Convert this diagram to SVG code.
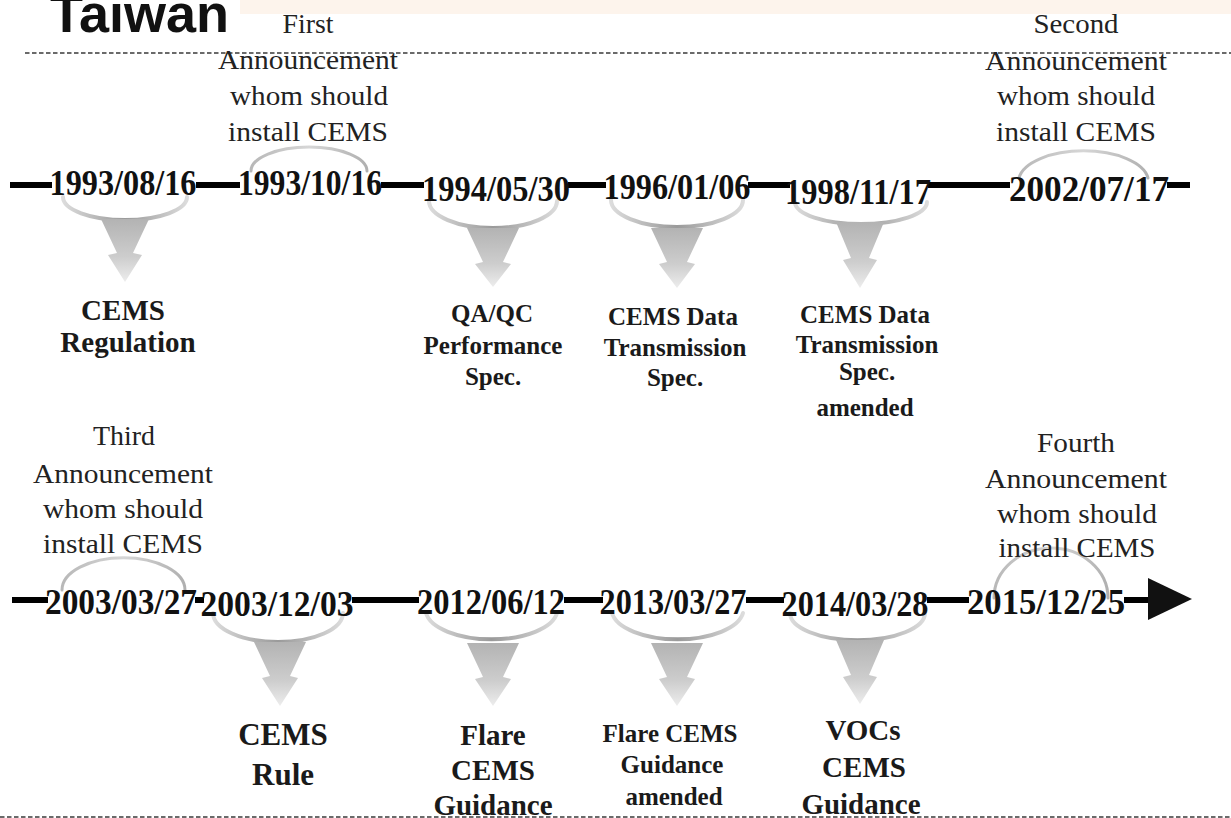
<svg xmlns="http://www.w3.org/2000/svg" width="1231" height="818" viewBox="0 0 1231 818">
<defs>
<style>
.title{font-family:"Liberation Sans",Arial,sans-serif;font-weight:bold;font-size:54px;fill:#111}
.date{font-family:"Liberation Serif","Times New Roman",serif;font-weight:bold;font-size:35px;fill:#111;text-anchor:middle}
.ann{font-family:"Liberation Serif","Times New Roman",serif;font-size:27px;fill:#222;text-anchor:middle}
.lbl{font-family:"Liberation Serif","Times New Roman",serif;font-weight:bold;font-size:25px;fill:#1a1a1a;text-anchor:middle}
.lbl29{font-family:"Liberation Serif","Times New Roman",serif;font-weight:bold;font-size:29px;fill:#1a1a1a;text-anchor:middle}
.lbl31{font-family:"Liberation Serif","Times New Roman",serif;font-weight:bold;font-size:31px;fill:#1a1a1a;text-anchor:middle}
.dash{stroke:#3a3a3a;stroke-width:1.6;stroke-dasharray:4.5 2.5;fill:none}
.tl{stroke:#000;stroke-width:6;fill:none}
.bowl{fill:none;stroke:url(#bowlG);stroke-width:4;stroke-linecap:round}
.cap{fill:none;stroke:url(#capG);stroke-width:3;stroke-linecap:round}
.tri{fill:url(#triG)}
</style>
<linearGradient id="bowlG" x1="0" y1="0" x2="1" y2="0">
<stop offset="0" stop-color="#dcdcdc"/>
<stop offset="0.5" stop-color="#9a9a9a"/>
<stop offset="1" stop-color="#dcdcdc"/>
</linearGradient>
<linearGradient id="capG" x1="0" y1="0" x2="1" y2="0">
<stop offset="0" stop-color="#b8b8b8"/>
<stop offset="0.5" stop-color="#d6d6d6"/>
<stop offset="1" stop-color="#b0b0b0"/>
</linearGradient>
<linearGradient id="triG" x1="0" y1="0" x2="0" y2="1">
<stop offset="0" stop-color="#b3b3b3"/>
<stop offset="0.6" stop-color="#cdcdcd"/>
<stop offset="1" stop-color="#ededed"/>
</linearGradient>
</defs>
<rect width="1231" height="818" fill="#ffffff"/>
<rect x="240" y="0" width="991" height="14" fill="#fdf4ec"/>

<text class="title" x="50" y="32">Taiwan</text>
<line class="dash" x1="25" y1="53" x2="1231" y2="53"/>
<line class="dash" x1="0" y1="817" x2="1231" y2="817"/>

<g id="connectors">
<line class="tl" x1="10" y1="185" x2="52" y2="185"/>
<line class="tl" x1="196" y1="185" x2="240" y2="185"/>
<line class="tl" x1="381" y1="185" x2="424" y2="185"/>
<line class="tl" x1="568" y1="185" x2="606" y2="185"/>
<line class="tl" x1="748" y1="185" x2="790" y2="185"/>
<line class="tl" x1="928" y1="185" x2="1010" y2="185"/>
<line class="tl" x1="1167" y1="185" x2="1190" y2="185"/>
<line class="tl" x1="12" y1="600" x2="48" y2="600"/>
<line class="tl" x1="195" y1="600" x2="204" y2="600"/>
<line class="tl" x1="352" y1="600" x2="419" y2="600"/>
<line class="tl" x1="564" y1="600" x2="603" y2="600"/>
<line class="tl" x1="746" y1="600" x2="784" y2="600"/>
<line class="tl" x1="927" y1="600" x2="969" y2="600"/>
<line class="tl" x1="1124" y1="600" x2="1150" y2="600"/>
<polygon points="1148,578 1192,599 1148,620" fill="#111"/>
</g>

<g id="n1993-08-16">
<path class="bowl" d="M63,197 A62 23 0 0 0 187,197"/>
<path class="tri" d="M101,219 L149,219 L133,253 L142,255 L125,282 L108,255 L117,253 Z"/>
<text class="date" x="123" y="195" textLength="147" lengthAdjust="spacingAndGlyphs">1993/08/16</text>
<text class="lbl29" x="123" y="320">CEMS</text>
<text class="lbl29" x="128" y="352">Regulation</text>
</g>

<g id="n1993-10-16">
<path class="cap" d="M251,171 A58 24 0 0 1 367,171"/>
<text class="date" x="310" y="195" textLength="144" lengthAdjust="spacingAndGlyphs">1993/10/16</text>
<text class="ann" x="308" y="33" textLength="51" lengthAdjust="spacingAndGlyphs">First</text>
<text class="ann" x="308" y="69" textLength="180" lengthAdjust="spacingAndGlyphs">Announcement</text>
<text class="ann" x="309" y="105" textLength="158" lengthAdjust="spacingAndGlyphs">whom should</text>
<text class="ann" x="308" y="141" textLength="160" lengthAdjust="spacingAndGlyphs">install CEMS</text>
</g>

<g id="n1994-05-30">
<path class="bowl" d="M429,201 A64 27 0 0 0 557,201"/>
<path class="tri" d="M467,228 L519,228 L503,262 L511,264 L493,287 L475,264 L483,262 Z"/>
<text class="date" x="496" y="201" textLength="148" lengthAdjust="spacingAndGlyphs">1994/05/30</text>
<text class="lbl" x="492" y="322">QA/QC</text>
<text class="lbl" x="493" y="354">Performance</text>
<text class="lbl" x="493" y="385">Spec.</text>
</g>

<g id="n1996-01-06">
<path class="bowl" d="M611,200 A66 27 0 0 0 743,200"/>
<path class="tri" d="M651,228 L703,228 L687,262 L695,264 L677,288 L659,264 L667,262 Z"/>
<text class="date" x="677" y="199" textLength="147" lengthAdjust="spacingAndGlyphs">1996/01/06</text>
<text class="lbl" x="673" y="325">CEMS Data</text>
<text class="lbl" x="675" y="356">Transmission</text>
<text class="lbl" x="675" y="386">Spec.</text>
</g>

<g id="n1998-11-17">
<path class="bowl" d="M795,202 A66 22 0 0 0 927,202"/>
<path class="tri" d="M836,222 L884,222 L869,258 L877,260 L860,288 L843,260 L851,258 Z"/>
<text class="date" x="858" y="204" textLength="146" lengthAdjust="spacingAndGlyphs">1998/11/17</text>
<text class="lbl" x="865" y="323">CEMS Data</text>
<text class="lbl" x="867" y="353">Transmission</text>
<text class="lbl" x="867" y="380">Spec.</text>
<text class="lbl" x="865" y="416">amended</text>
</g>

<g id="n2002-07-17">
<path class="cap" d="M1019,178 A65 31 0 0 1 1148,178"/>
<text class="date" x="1089" y="201" textLength="160" lengthAdjust="spacingAndGlyphs">2002/07/17</text>
<text class="ann" x="1076" y="33" textLength="85" lengthAdjust="spacingAndGlyphs">Second</text>
<text class="ann" x="1076" y="70" textLength="182" lengthAdjust="spacingAndGlyphs">Announcement</text>
<text class="ann" x="1076" y="105" textLength="158" lengthAdjust="spacingAndGlyphs">whom should</text>
<text class="ann" x="1076" y="141" textLength="160" lengthAdjust="spacingAndGlyphs">install CEMS</text>
</g>

<g id="n2003-03-27">
<path class="cap" d="M62,590 A61 32 0 0 1 185,590"/>
<text class="date" x="121" y="614" textLength="152" lengthAdjust="spacingAndGlyphs">2003/03/27</text>
<text class="ann" x="124" y="445" textLength="62" lengthAdjust="spacingAndGlyphs">Third</text>
<text class="ann" x="123" y="483" textLength="180" lengthAdjust="spacingAndGlyphs">Announcement</text>
<text class="ann" x="123" y="518" textLength="160" lengthAdjust="spacingAndGlyphs">whom should</text>
<text class="ann" x="123" y="553" textLength="160" lengthAdjust="spacingAndGlyphs">install CEMS</text>
</g>

<g id="n2003-12-03">
<path class="bowl" d="M213,613 A65 29 0 0 0 343,613"/>
<path class="tri" d="M254,642 L306,642 L290,676 L298,678 L280,706 L262,678 L270,676 Z"/>
<text class="date" x="277" y="616" textLength="153" lengthAdjust="spacingAndGlyphs">2003/12/03</text>
<text class="lbl31" x="283" y="745">CEMS</text>
<text class="lbl31" x="283" y="785">Rule</text>
</g>

<g id="n2012-06-12">
<path class="bowl" d="M426,613 A66 30 0 0 0 557,613"/>
<path class="tri" d="M467,643 L519,643 L503,677 L511,679 L493,706 L475,679 L483,677 Z"/>
<text class="date" x="491" y="614" textLength="148" lengthAdjust="spacingAndGlyphs">2012/06/12</text>
<text class="lbl29" x="493" y="745">Flare</text>
<text class="lbl29" x="493" y="780">CEMS</text>
<text class="lbl29" x="493" y="815">Guidance</text>
</g>

<g id="n2013-03-27">
<path class="bowl" d="M612,613 A66 30 0 0 0 743,613"/>
<path class="tri" d="M651,643 L703,643 L687,677 L695,679 L677,706 L659,679 L667,677 Z"/>
<text class="date" x="673" y="614" textLength="147" lengthAdjust="spacingAndGlyphs">2013/03/27</text>
<text class="lbl" x="670" y="742">Flare CEMS</text>
<text class="lbl" x="672" y="773">Guidance</text>
<text class="lbl" x="674" y="805">amended</text>
</g>

<g id="n2014-03-28">
<path class="bowl" d="M790,613 A67 27 0 0 0 925,613"/>
<path class="tri" d="M836,640 L884,640 L869,675 L877,677 L860,704 L843,677 L851,675 Z"/>
<text class="date" x="855" y="616" textLength="147" lengthAdjust="spacingAndGlyphs">2014/03/28</text>
<text class="lbl29" x="863" y="740">VOCs</text>
<text class="lbl29" x="864" y="777">CEMS</text>
<text class="lbl29" x="861" y="814">Guidance</text>
</g>

<g id="n2015-12-25">
<path class="cap" d="M994,598 A57 50 0 0 1 1108,598"/>
<text class="date" x="1046" y="614" textLength="158" lengthAdjust="spacingAndGlyphs">2015/12/25</text>
<text class="ann" x="1076" y="452" textLength="78" lengthAdjust="spacingAndGlyphs">Fourth</text>
<text class="ann" x="1076" y="488" textLength="182" lengthAdjust="spacingAndGlyphs">Announcement</text>
<text class="ann" x="1077" y="523" textLength="160" lengthAdjust="spacingAndGlyphs">whom should</text>
<text class="ann" x="1077" y="557" textLength="157" lengthAdjust="spacingAndGlyphs">install CEMS</text>
</g>
</svg>
